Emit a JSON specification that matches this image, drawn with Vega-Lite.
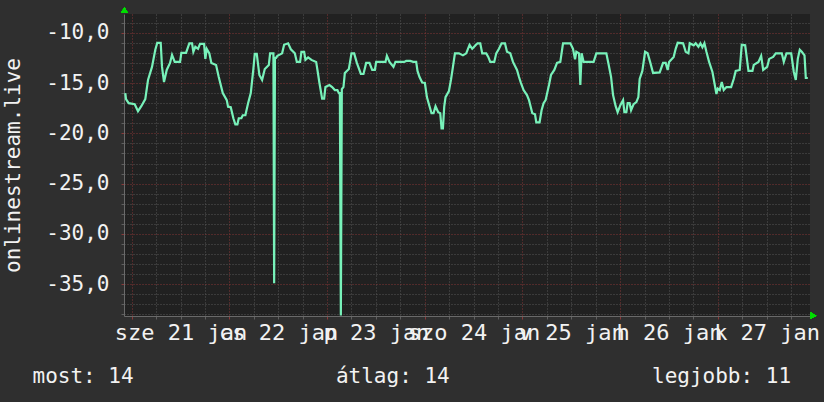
{
  "$schema": "https://vega.github.io/schema/vega-lite/v6.json",
  "width": 686,
  "height": 302,
  "autosize": {"type": "none"},
  "padding": {"left": 124, "top": 14, "right": 14, "bottom": 86},
  "background": "#2f2f2f",
  "config": {"view": {"fill": "#212121", "stroke": null}, "font": "DejaVu Sans Mono"},
  "data": {"values": [
    {"hour": -1.57, "value": -16.0}, {"hour": -1.4, "value": -16.6}, {"hour": -0.74, "value": -17.0}, {"hour": 0.74, "value": -17.1}, {"hour": 1.55, "value": -17.8}, {"hour": 2.36, "value": -17.3}, {"hour": 3.34, "value": -16.6}, {"hour": 4.01, "value": -14.7}, {"hour": 4.99, "value": -13.4}, {"hour": 5.8, "value": -11.7}, {"hour": 6.29, "value": -11.0}, {"hour": 7.13, "value": -11.0}, {"hour": 7.45, "value": -13.4}, {"hour": 7.94, "value": -14.9}, {"hour": 8.61, "value": -13.7}, {"hour": 9.42, "value": -13.0}, {"hour": 9.91, "value": -12.2}, {"hour": 10.57, "value": -12.9}, {"hour": 11.88, "value": -12.9}, {"hour": 12.2, "value": -12.0}, {"hour": 13.35, "value": -12.0}, {"hour": 14.16, "value": -11.05}, {"hour": 14.83, "value": -11.05}, {"hour": 15.15, "value": -11.9}, {"hour": 15.64, "value": -11.4}, {"hour": 16.3, "value": -11.6}, {"hour": 16.79, "value": -11.1}, {"hour": 17.78, "value": -11.1}, {"hour": 18.1, "value": -12.6}, {"hour": 18.44, "value": -11.6}, {"hour": 19.08, "value": -12.05}, {"hour": 19.57, "value": -13.0}, {"hour": 20.73, "value": -13.2}, {"hour": 21.39, "value": -14.4}, {"hour": 22.38, "value": -16.0}, {"hour": 23.36, "value": -16.7}, {"hour": 23.68, "value": -17.35}, {"hour": 24.34, "value": -17.4}, {"hour": 24.98, "value": -18.5}, {"hour": 25.47, "value": -19.1}, {"hour": 25.97, "value": -19.1}, {"hour": 26.31, "value": -18.5}, {"hour": 26.95, "value": -18.5}, {"hour": 27.29, "value": -18.2}, {"hour": 27.93, "value": -18.2}, {"hour": 28.6, "value": -17.0}, {"hour": 29.26, "value": -16.0}, {"hour": 29.9, "value": -13.6}, {"hour": 30.24, "value": -12.1}, {"hour": 30.73, "value": -12.1}, {"hour": 31.37, "value": -14.2}, {"hour": 32.04, "value": -14.7}, {"hour": 32.7, "value": -13.6}, {"hour": 33.69, "value": -13.2}, {"hour": 34.01, "value": -12.05}, {"hour": 34.82, "value": -12.05}, {"hour": 35.0, "value": -34.9}, {"hour": 35.2, "value": -12.5}, {"hour": 35.48, "value": -12.5}, {"hour": 35.8, "value": -12.3}, {"hour": 36.96, "value": -12.05}, {"hour": 37.45, "value": -11.2}, {"hour": 38.43, "value": -11.05}, {"hour": 39.1, "value": -11.65}, {"hour": 40.08, "value": -12.05}, {"hour": 40.57, "value": -12.9}, {"hour": 41.38, "value": -12.9}, {"hour": 41.7, "value": -11.9}, {"hour": 42.37, "value": -11.9}, {"hour": 42.69, "value": -12.7}, {"hour": 43.35, "value": -12.45}, {"hour": 44.16, "value": -12.7}, {"hour": 45.32, "value": -12.9}, {"hour": 45.64, "value": -13.7}, {"hour": 46.13, "value": -15.0}, {"hour": 46.79, "value": -16.55}, {"hour": 47.28, "value": -16.55}, {"hour": 47.6, "value": -15.4}, {"hour": 48.59, "value": -15.2}, {"hour": 49.25, "value": -15.4}, {"hour": 49.91, "value": -15.7}, {"hour": 50.55, "value": -15.7}, {"hour": 50.9, "value": -16.0}, {"hour": 51.15, "value": -16.0}, {"hour": 51.39, "value": -38.1}, {"hour": 51.63, "value": -15.6}, {"hour": 52.03, "value": -15.4}, {"hour": 52.37, "value": -14.0}, {"hour": 53.36, "value": -13.6}, {"hour": 54.0, "value": -12.05}, {"hour": 54.66, "value": -12.05}, {"hour": 55.32, "value": -13.0}, {"hour": 56.31, "value": -14.1}, {"hour": 56.95, "value": -14.1}, {"hour": 57.61, "value": -13.0}, {"hour": 58.42, "value": -13.0}, {"hour": 59.09, "value": -13.7}, {"hour": 59.75, "value": -13.7}, {"hour": 60.07, "value": -12.9}, {"hour": 62.36, "value": -12.9}, {"hour": 62.7, "value": -12.3}, {"hour": 63.34, "value": -12.9}, {"hour": 64.32, "value": -13.4}, {"hour": 64.81, "value": -12.9}, {"hour": 66.95, "value": -12.9}, {"hour": 67.45, "value": -12.8}, {"hour": 68.43, "value": -12.8}, {"hour": 69.17, "value": -12.9}, {"hour": 69.9, "value": -12.9}, {"hour": 70.22, "value": -13.8}, {"hour": 70.72, "value": -14.4}, {"hour": 71.38, "value": -14.95}, {"hour": 72.04, "value": -15.0}, {"hour": 72.53, "value": -16.4}, {"hour": 73.17, "value": -17.3}, {"hour": 73.67, "value": -18.0}, {"hour": 74.16, "value": -18.0}, {"hour": 74.65, "value": -17.3}, {"hour": 75.31, "value": -17.9}, {"hour": 75.81, "value": -18.0}, {"hour": 76.13, "value": -19.5}, {"hour": 76.47, "value": -19.5}, {"hour": 76.79, "value": -17.35}, {"hour": 77.11, "value": -16.4}, {"hour": 77.94, "value": -15.8}, {"hour": 78.44, "value": -14.7}, {"hour": 78.93, "value": -13.4}, {"hour": 79.42, "value": -12.05}, {"hour": 80.4, "value": -12.05}, {"hour": 81.39, "value": -12.25}, {"hour": 82.2, "value": -12.05}, {"hour": 83.01, "value": -11.2}, {"hour": 83.67, "value": -11.6}, {"hour": 84.48, "value": -11.25}, {"hour": 84.98, "value": -11.05}, {"hour": 85.64, "value": -11.05}, {"hour": 86.13, "value": -12.05}, {"hour": 87.11, "value": -12.05}, {"hour": 87.61, "value": -12.4}, {"hour": 88.1, "value": -12.9}, {"hour": 89.08, "value": -12.9}, {"hour": 89.57, "value": -12.05}, {"hour": 90.24, "value": -11.6}, {"hour": 90.88, "value": -11.05}, {"hour": 91.71, "value": -11.05}, {"hour": 92.21, "value": -11.9}, {"hour": 93.02, "value": -12.05}, {"hour": 93.68, "value": -12.9}, {"hour": 94.67, "value": -13.7}, {"hour": 95.16, "value": -14.4}, {"hour": 95.65, "value": -15.0}, {"hour": 96.29, "value": -15.7}, {"hour": 97.12, "value": -16.2}, {"hour": 97.62, "value": -16.7}, {"hour": 98.43, "value": -18.0}, {"hour": 99.09, "value": -18.1}, {"hour": 99.41, "value": -18.9}, {"hour": 100.22, "value": -18.9}, {"hour": 100.71, "value": -17.7}, {"hour": 101.2, "value": -17.0}, {"hour": 101.7, "value": -16.7}, {"hour": 102.53, "value": -15.2}, {"hour": 103.02, "value": -14.2}, {"hour": 103.84, "value": -13.7}, {"hour": 104.5, "value": -13.0}, {"hour": 105.31, "value": -12.9}, {"hour": 105.98, "value": -11.05}, {"hour": 107.77, "value": -11.05}, {"hour": 108.43, "value": -11.6}, {"hour": 108.93, "value": -12.65}, {"hour": 109.25, "value": -11.9}, {"hour": 109.91, "value": -12.05}, {"hour": 110.23, "value": -15.2}, {"hour": 110.55, "value": -12.05}, {"hour": 111.04, "value": -12.9}, {"hour": 113.5, "value": -12.9}, {"hour": 114.16, "value": -12.05}, {"hour": 116.62, "value": -12.05}, {"hour": 117.11, "value": -13.0}, {"hour": 117.78, "value": -14.4}, {"hour": 118.27, "value": -16.2}, {"hour": 118.91, "value": -17.3}, {"hour": 119.4, "value": -17.9}, {"hour": 120.06, "value": -17.2}, {"hour": 120.73, "value": -16.7}, {"hour": 121.05, "value": -17.9}, {"hour": 121.54, "value": -17.9}, {"hour": 121.86, "value": -17.0}, {"hour": 122.35, "value": -17.0}, {"hour": 122.7, "value": -17.7}, {"hour": 123.33, "value": -17.1}, {"hour": 124.0, "value": -16.9}, {"hour": 124.49, "value": -16.4}, {"hour": 124.81, "value": -14.6}, {"hour": 125.47, "value": -13.8}, {"hour": 126.14, "value": -11.9}, {"hour": 126.77, "value": -12.05}, {"hour": 127.44, "value": -13.0}, {"hour": 128.1, "value": -14.0}, {"hour": 129.73, "value": -13.95}, {"hour": 130.56, "value": -13.0}, {"hour": 131.2, "value": -13.0}, {"hour": 131.69, "value": -13.7}, {"hour": 132.04, "value": -12.9}, {"hour": 133.17, "value": -12.4}, {"hour": 133.66, "value": -11.6}, {"hour": 134.15, "value": -11.0}, {"hour": 135.48, "value": -11.05}, {"hour": 136.12, "value": -11.9}, {"hour": 136.78, "value": -12.05}, {"hour": 137.11, "value": -11.05}, {"hour": 138.09, "value": -11.25}, {"hour": 138.58, "value": -11.05}, {"hour": 139.25, "value": -11.4}, {"hour": 139.74, "value": -11.05}, {"hour": 140.23, "value": -11.45}, {"hour": 140.72, "value": -11.05}, {"hour": 141.21, "value": -11.9}, {"hour": 141.87, "value": -12.9}, {"hour": 142.69, "value": -13.9}, {"hour": 143.18, "value": -15.0}, {"hour": 143.67, "value": -16.1}, {"hour": 143.99, "value": -15.55}, {"hour": 144.48, "value": -15.7}, {"hour": 144.98, "value": -14.9}, {"hour": 145.47, "value": -15.7}, {"hour": 146.13, "value": -15.4}, {"hour": 147.28, "value": -15.4}, {"hour": 147.92, "value": -14.6}, {"hour": 148.41, "value": -13.8}, {"hour": 149.4, "value": -13.7}, {"hour": 149.89, "value": -11.2}, {"hour": 150.73, "value": -11.25}, {"hour": 151.54, "value": -13.8}, {"hour": 152.52, "value": -13.8}, {"hour": 152.84, "value": -13.2}, {"hour": 154.0, "value": -12.9}, {"hour": 154.66, "value": -12.3}, {"hour": 155.16, "value": -13.7}, {"hour": 156.14, "value": -13.4}, {"hour": 156.63, "value": -12.6}, {"hour": 157.61, "value": -12.4}, {"hour": 158.25, "value": -12.05}, {"hour": 159.73, "value": -12.05}, {"hour": 160.22, "value": -12.9}, {"hour": 160.88, "value": -12.05}, {"hour": 162.04, "value": -12.05}, {"hour": 162.68, "value": -13.9}, {"hour": 163.17, "value": -14.7}, {"hour": 163.66, "value": -12.6}, {"hour": 164.15, "value": -11.7}, {"hour": 164.64, "value": -11.9}, {"hour": 165.31, "value": -12.25}, {"hour": 165.63, "value": -14.5}, {"hour": 166.12, "value": -14.5}
  ]},
  "layer": [
    {
      "mark": {"type": "line", "color": "#78f2ba", "strokeWidth": 2.2, "clip": true},
      "encoding": {
        "x": {
          "field": "hour", "type": "quantitative",
          "scale": {"domain": [-1.89, 166.66], "nice": false, "zero": false},
          "axis": {
            "values": [0, 6, 12, 18, 24, 30, 36, 42, 48, 54, 60, 66, 72, 78, 84, 90, 96, 102, 108, 114, 120, 126, 132, 138, 144, 150, 156, 162],
            "tickCount": 500,
            "labelExpr": "datum.value % 24 == 12 ? ['sze 21 jan','cs 22 jan','p 23 jan','szo 24 jan','v 25 jan','h 26 jan','k 27 jan'][floor(datum.value / 24)] : ''",
            "labelOverlap": false, "labelFlush": false, "labelBound": false,
            "labelFont": "DejaVu Sans Mono", "labelFontSize": 22, "labelColor": "#f2f2f2", "labelPadding": 3,
            "grid": true,
            "gridColor": {"condition": {"test": "datum.value % 24 == 0", "value": "#853636"}, "value": "#575757"},
            "gridDash": [1, 2], "gridWidth": 1,
            "ticks": true, "tickSize": 3,
            "tickColor": {"condition": {"test": "datum.value % 24 == 0", "value": "#8a3a3a"}, "value": "#5f5f5f"},
            "domain": true, "domainColor": "#6a6a6a", "domainWidth": 1,
            "title": "most: 14\u00a0\u00a0\u00a0\u00a0\u00a0\u00a0\u00a0\u00a0\u00a0\u00a0\u00a0\u00a0\u00a0\u00a0\u00a0\u00a0átlag: 14\u00a0\u00a0\u00a0\u00a0\u00a0\u00a0\u00a0\u00a0\u00a0\u00a0\u00a0\u00a0\u00a0\u00a0\u00a0\u00a0legjobb: 11",
            "titleFont": "DejaVu Sans Mono", "titleFontSize": 21, "titleFontWeight": "normal", "titleColor": "#f2f2f2",
            "titleAlign": "left", "titleBaseline": "alphabetic", "titleX": -92, "titleY": 66
          }
        },
        "y": {
          "field": "value", "type": "quantitative",
          "scale": {"domain": [-38.15, -8.14], "nice": false, "zero": false},
          "axis": {
            "values": [-38, -37, -36, -35, -34, -33, -32, -31, -30, -29, -28, -27, -26, -25, -24, -23, -22, -21, -20, -19, -18, -17, -16, -15, -14, -13, -12, -11, -10, -9],
            "tickCount": 500,
            "labelExpr": "datum.value % 5 == 0 ? '-' + replace(format(-datum.value, '.1f'), '.', ',') : ''",
            "labelOverlap": false, "labelFlush": false,
            "labelFont": "DejaVu Sans Mono", "labelFontSize": 21, "labelColor": "#f2f2f2", "labelPadding": 12,
            "grid": true,
            "gridColor": {"condition": {"test": "datum.value % 5 == 0", "value": "#853636"}, "value": "#575757"},
            "gridDash": [1, 2], "gridWidth": 1,
            "ticks": true, "tickSize": 3,
            "tickColor": {"condition": {"test": "datum.value % 5 == 0", "value": "#8a3a3a"}, "value": "#5f5f5f"},
            "domain": true, "domainColor": "#6a6a6a", "domainWidth": 1,
            "title": "onlinestream.live",
            "titleFont": "DejaVu Sans Mono", "titleFontSize": 21, "titleFontWeight": "normal", "titleColor": "#f2f2f2",
            "titlePadding": 22
          }
        }
      }
    },
    {
      "mark": {"type": "point", "shape": "triangle-up", "filled": true, "color": "#00dd00", "size": 40, "opacity": 1, "clip": false},
      "encoding": {"x": {"datum": -1.77}, "y": {"datum": -7.75}}
    },
    {
      "mark": {"type": "point", "shape": "triangle-right", "filled": true, "color": "#00dd00", "size": 40, "opacity": 1, "clip": false},
      "encoding": {"x": {"datum": 167.5}, "y": {"datum": -38.12}}
    }
  ]
}
